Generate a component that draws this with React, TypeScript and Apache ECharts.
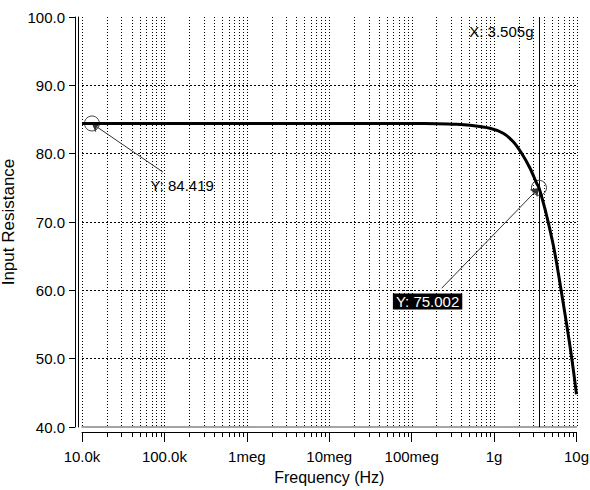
import React, { useEffect, useRef } from "react";
import * as echarts from "echarts";

// Curve data (frequency in Hz, input resistance)
const freqs = [1e4, 1e5, 1e6, 1e7, 1e8, 2e8, 3.5e8, 5.1e8, 8.9e8, 1.29e9, 1.71e9, 2.16e9, 2.73e9, 3.29e9, 3.505e9, 4.15e9, 4.55e9, 5.23e9, 5.74e9, 6.31e9, 7.6e9, 8.75e9, 1e10];
const resistance = [84.419, 84.419, 84.419, 84.419, 84.41, 84.38, 84.3, 84.15, 83.71, 82.98, 81.75, 80.05, 77.86, 75.66, 75.002, 71.9, 69.9, 66.6, 64.0, 61.0, 55.0, 50.1, 44.8];

// Axis ticks
const decades = [1e4, 1e5, 1e6, 1e7, 1e8, 1e9];
const decadeLabels: Record<number, string> = { 4: "10.0k", 5: "100.0k", 6: "1meg", 7: "10meg", 8: "100meg", 9: "1g", 10: "10g" };
const minorMultipliers = [1, 2, 3, 4, 5, 6, 7, 8, 9];
const yTicks = [40, 50, 60, 70, 80, 90, 100];

// Cursor annotations
const cursor1 = [1.32e4, 84.419];
const cursor2 = [3.505e9, 75.002];
const leader1End = [9.6e4, 77.3];
const leader2End = [2.31e8, 60.3];
const label1Pos = [6.68e4, 75.41];
const label2Pos = [1.56e8, 58.36];
const xLabelPos = [3.505e9, 97.85];

const gridFreqs = decades.flatMap((d) => minorMultipliers.map((m) => d * m)).concat([1e10]);

export default function App() {
  const ref = useRef<HTMLDivElement>(null);
  useEffect(() => {
    document.body.style.margin = "0";
    const chart = echarts.init(ref.current!, null, { renderer: "svg" });
    const font = "'Liberation Sans', Arial, sans-serif";
    const yMin = yTicks[0];
    const yMax = yTicks[yTicks.length - 1];
    chart.setOption({
      animation: false,
      backgroundColor: "#fff",
      grid: { left: 82, right: 13.5, top: 17, bottom: 63, containLabel: false, outerBoundsMode: "none" },
      xAxis: [
        {
          type: "log",
          logBase: 10,
          min: 1e4,
          max: 1e10,
          position: "bottom",
          offset: 5,
          axisLine: { show: true, lineStyle: { color: "#000", width: 1 } },
          axisTick: { show: true, length: 10, lineStyle: { color: "#000" } },
          minorTick: { show: false },
          splitLine: { show: false },
          axisLabel: {
            color: "#000",
            fontSize: 15,
            fontFamily: font,
            margin: 17,
            formatter: (v: number) => decadeLabels[Math.round(Math.log10(v))] ?? "",
          },
          name: "Frequency (Hz)",
          nameLocation: "middle",
          nameGap: 37,
          nameTextStyle: { color: "#000", fontSize: 16, fontFamily: font },
        },
        {
          type: "log",
          logBase: 10,
          min: 1e4,
          max: 1e10,
          position: "bottom",
          offset: 0,
          axisLine: { show: true, lineStyle: { color: "#888", width: 1.5 } },
          axisTick: { show: false },
          axisLabel: { show: false },
          splitLine: { show: false },
        },
      ],
      yAxis: [
        {
          type: "value",
          min: yMin,
          max: yMax,
          interval: 10,
          position: "left",
          offset: 7,
          axisLine: { show: true, lineStyle: { color: "#000", width: 1 } },
          axisTick: { show: true, length: 6, lineStyle: { color: "#000" } },
          axisLabel: {
            color: "#000",
            fontSize: 15,
            fontFamily: font,
            margin: 10,
            formatter: (v: number) => v.toFixed(1),
          },
          splitLine: {
            show: true,
            showMinLine: false,
            showMaxLine: false,
            lineStyle: { color: "#000", type: [2, 2], width: 1 },
          },
          name: "Input Resistance",
          nameLocation: "middle",
          nameGap: 57,
          nameTextStyle: { color: "#000", fontSize: 17, fontFamily: font },
        },
        {
          type: "value",
          min: yMin,
          max: yMax,
          position: "left",
          offset: 4,
          axisLine: { show: true, lineStyle: { color: "#000", width: 1 } },
          axisTick: { show: false },
          axisLabel: { show: false },
          splitLine: { show: false },
        },
      ],
      series: [
        {
          type: "custom",
          silent: true,
          clip: false,
          z: 1,
          data: gridFreqs.map((f) => [f, yMin]),
          encode: { x: 0, y: 1 },
          renderItem: (params: any, api: any) => {
            const f = api.value(0);
            const top = api.coord([f, yMax]);
            const bot = api.coord([f, yMin]);
            const lg = Math.log10(f);
            const isDecade = Math.abs(lg - Math.round(lg)) < 1e-6;
            const x = Math.round(top[0]) + 0.5;
            const children: any[] = [
              {
                type: "line",
                shape: { x1: x, y1: top[1], x2: x, y2: bot[1] },
                style: { stroke: "#000", lineWidth: 1, lineDash: [1, 2] },
              },
            ];
            if (!isDecade) {
              children.push({
                type: "line",
                shape: { x1: x, y1: bot[1] + 5, x2: x, y2: bot[1] + 10 },
                style: { stroke: "#000", lineWidth: 1 },
              });
            }
            return { type: "group", children };
          },
        },
        {
          type: "line",
          z: 5,
          data: freqs.map((f, i) => [f, resistance[i]]),
          showSymbol: false,
          smooth: 0.3,
          lineStyle: { color: "#000", width: 3 },
          markLine: {
            silent: true,
            symbol: ["none", "none"],
            label: { show: false },
            data: [
              { xAxis: cursor2[0], lineStyle: { color: "#000", width: 1, type: "solid" } },
              [
                { coord: cursor1, symbol: "arrow", symbolSize: 8, lineStyle: { color: "#333", width: 1, type: "solid" } },
                { coord: leader1End, symbol: "none" },
              ],
              [
                { coord: cursor2, symbol: "arrow", symbolSize: 8, lineStyle: { color: "#333", width: 1, type: "solid" } },
                { coord: leader2End, symbol: "none" },
              ],
            ],
          },
          markPoint: {
            silent: true,
            data: [
              {
                coord: cursor1,
                symbol: "circle",
                symbolSize: 15,
                itemStyle: { color: "rgba(0,0,0,0)", borderColor: "#444", borderWidth: 1 },
                label: { show: false },
              },
              {
                coord: cursor2,
                symbol: "circle",
                symbolSize: 15,
                itemStyle: { color: "rgba(0,0,0,0)", borderColor: "#444", borderWidth: 1 },
                label: { show: false },
              },
              {
                coord: label1Pos,
                symbol: "circle",
                symbolSize: 1,
                itemStyle: { color: "rgba(0,0,0,0)" },
                label: {
                  show: true,
                  position: "right",
                  distance: 0,
                  formatter: "Y: 84.419",
                  color: "#000",
                  fontSize: 15,
                  fontFamily: font,
                },
              },
              {
                coord: label2Pos,
                symbol: "circle",
                symbolSize: 1,
                itemStyle: { color: "rgba(0,0,0,0)" },
                label: {
                  show: true,
                  position: "inside",
                  formatter: "Y: 75.002",
                  color: "#fff",
                  backgroundColor: "#000",
                  padding: [1, 3, 0, 3],
                  fontSize: 15,
                  fontFamily: font,
                },
              },
              {
                coord: xLabelPos,
                symbol: "circle",
                symbolSize: 1,
                itemStyle: { color: "rgba(0,0,0,0)" },
                label: {
                  show: true,
                  position: "left",
                  distance: 5,
                  formatter: "X: 3.505g",
                  color: "#000",
                  fontSize: 15,
                  fontFamily: font,
                },
              },
            ],
          },
        },
      ],
    });
    return () => chart.dispose();
  }, []);
  return <div ref={ref} style={{ position: "fixed", left: 0, top: 0, width: 590, height: 490 }} />;
}
